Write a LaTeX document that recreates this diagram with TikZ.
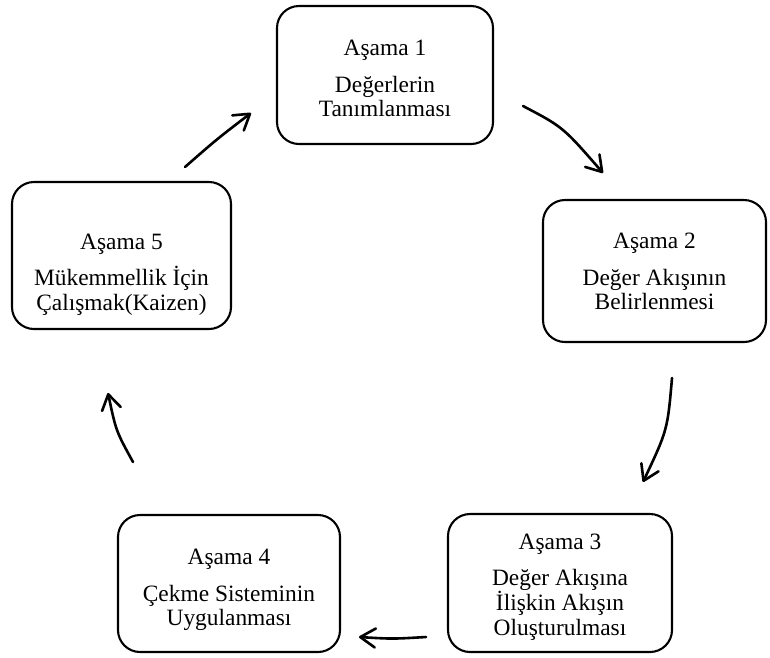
\documentclass[tikz,border=0pt]{standalone}
\usepackage{fontspec}
\setmainfont{Liberation Serif}
\usetikzlibrary{arrows.meta}
\newcommand{\mystagefont}{\fontsize{23.4}{24.6}\selectfont\lineskiplimit=-50pt\relax}
\begin{document}
\begin{tikzpicture}[x=1pt,y=-1pt,
  stagebox/.style={draw, line width=2.1pt, rounded corners=22pt, inner sep=0pt},
  stagetext/.style={anchor=north, inner sep=0pt, align=center, font=\mystagefont},
  arr/.style={line width=2.6pt, line cap=round,
    -{Straight Barb[length=15pt,width=19pt,round]}}]
\useasboundingbox (0,0) rectangle (770,657);

% boxes
\node[stagebox, minimum width=216pt, minimum height=138pt] (b1) at (385,75) {};
\node[stagebox, minimum width=223pt, minimum height=142pt] (b2) at (654.5,271) {};
\node[stagebox, minimum width=224pt, minimum height=138pt] (b3) at (560,583) {};
\node[stagebox, minimum width=222pt, minimum height=137pt] (b4) at (229,583.5) {};
\node[stagebox, minimum width=219pt, minimum height=147pt] (b5) at (121.5,255.5) {};

% texts
\node[stagetext] (t1) at (385,40) {Aşama 1\\[12pt]Değerlerin\\Tanımlanması};
\node[stagetext] (t2) at (654.5,233) {Aşama 2\\[12pt]Değer Akışının\\Belirlenmesi};
\node[stagetext] (t3) at (560,533.5) {Aşama 3\\[12pt]Değer Akışına\\İlişkin Akışın\\Oluşturulması};
\node[stagetext] (t4) at (229,549) {Aşama 4\\[12pt]Çekme Sisteminin\\Uygulanması};
\node[stagetext] (t5) at (121.5,233.5) {Aşama 5\\[12pt]Mükemmellik İçin\\Çalışmak(Kaizen)};

% arrow end points
\coordinate (s1) at (185,167);  \coordinate (e1) at (251,113);
\coordinate (s2) at (523,106);  \coordinate (e2) at (603,173);
\coordinate (s3) at (672,378);  \coordinate (e3) at (643,482);
\coordinate (s4) at (426,637);  \coordinate (e4) at (359,637);
\coordinate (s5) at (133,462);  \coordinate (e5) at (108,393);

\draw[arr] (s1) .. controls (217,139) .. (e1);
\draw[arr] (s2) .. controls (563,127) .. (e2);
\draw[arr] (s3) .. controls (667.5,430) .. (e3);
\draw[arr] (s4) .. controls (392.5,639) .. (e4);
\draw[arr] (s5) .. controls (116,431) .. (e5);
\end{tikzpicture}
\end{document}
